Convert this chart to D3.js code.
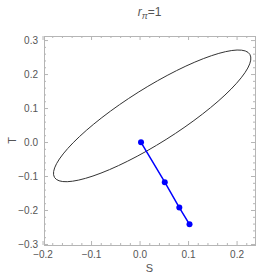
<!DOCTYPE html>
<html>
<head>
<meta charset="utf-8">
<script src="https://cdn.jsdelivr.net/npm/d3@7"></script>
<style>
  body { margin: 0; background: #fff; }
  text { font-family: "Liberation Sans", Arial, sans-serif; fill: #555; }
</style>
</head>
<body>
<div id="container"></div>
<script>
/* CONSTANTS AND GLOBALS */
const width = 274,
  height = 280,
  margin = { top: 36, bottom: 35, left: 44, right: 19 };

// blue path: S and T values at each point
const pathS = [0.003, 0.052, 0.082, 0.103];
const pathT = [-0.001, -0.118, -0.193, -0.242];

// ellipse: centre (S, T), semi-axes and tilt in degrees (data space)
const ellipseCenter = [0.026, 0.077];
const ellipseAxes = [0.272, 0.0705];
const ellipseAngle = 43.4;

const xTicks = [-0.2, -0.1, 0.0, 0.1, 0.2];
const yTicks = [-0.3, -0.2, -0.1, 0.0, 0.1, 0.2, 0.3];

const xScale = d3.scaleLinear()
  .domain([-0.197, 0.238])
  .range([margin.left, width - margin.right]);

const yScale = d3.scaleLinear()
  .domain([-0.303, 0.312])
  .range([height - margin.bottom, margin.top]);

const svg = d3.select("#container")
  .append("svg")
  .attr("width", width)
  .attr("height", height);

// minor ticks every 0.02
const xMinor = d3.range(-0.18, 0.24, 0.02).filter(v => Math.abs(Math.round(v * 10) - v * 10) > 1e-6);
const yMinor = d3.range(-0.28, 0.31, 0.02).filter(v => Math.abs(Math.round(v * 10) - v * 10) > 1e-6);

const fmt = d => d3.format(".1f")(d).replace("-", "\u2212");

// bottom
svg.append("g")
  .attr("transform", `translate(0, ${height - margin.bottom})`)
  .call(d3.axisBottom(xScale).tickValues(xTicks).tickSize(-4).tickPadding(6).tickFormat(fmt))
  .call(g => g.selectAll("text").attr("font-size", 10));
svg.append("g")
  .attr("transform", `translate(0, ${height - margin.bottom})`)
  .call(d3.axisBottom(xScale).tickValues(xMinor).tickSize(-2).tickFormat(""));
// top
svg.append("g")
  .attr("transform", `translate(0, ${margin.top})`)
  .call(d3.axisTop(xScale).tickValues(xTicks).tickSize(-4).tickFormat(""));
svg.append("g")
  .attr("transform", `translate(0, ${margin.top})`)
  .call(d3.axisTop(xScale).tickValues(xMinor).tickSize(-2).tickFormat(""));
// left
svg.append("g")
  .attr("transform", `translate(${margin.left}, 0)`)
  .call(d3.axisLeft(yScale).tickValues(yTicks).tickSize(-4).tickPadding(6).tickFormat(fmt))
  .call(g => g.selectAll("text").attr("font-size", 10));
svg.append("g")
  .attr("transform", `translate(${margin.left}, 0)`)
  .call(d3.axisLeft(yScale).tickValues(yMinor).tickSize(-2).tickFormat(""));
// right
svg.append("g")
  .attr("transform", `translate(${width - margin.right}, 0)`)
  .call(d3.axisRight(yScale).tickValues(yTicks).tickSize(-4).tickFormat(""));
svg.append("g")
  .attr("transform", `translate(${width - margin.right}, 0)`)
  .call(d3.axisRight(yScale).tickValues(yMinor).tickSize(-2).tickFormat(""));

svg.selectAll(".domain").attr("stroke", "#b5b5b5");
svg.selectAll(".tick line").attr("stroke", "#b5b5b5");
svg.selectAll(".tick text").attr("fill", "#555");

// ellipse, drawn in data units and mapped through the scales
const kx = xScale(1) - xScale(0),
  ky = yScale(0) - yScale(1);
svg.append("ellipse")
  .attr("transform", `translate(${xScale(ellipseCenter[0])}, ${yScale(ellipseCenter[1])}) scale(${kx}, ${-ky}) rotate(${ellipseAngle})`)
  .attr("rx", ellipseAxes[0])
  .attr("ry", ellipseAxes[1])
  .attr("fill", "none")
  .attr("stroke", "#333")
  .attr("stroke-width", 1)
  .attr("vector-effect", "non-scaling-stroke");

// blue path
const pathPts = pathS.map((s, i) => [s, pathT[i]]);
svg.append("path")
  .datum(pathPts)
  .attr("fill", "none")
  .attr("stroke", "#0000ff")
  .attr("stroke-width", 1.5)
  .attr("d", d3.line().x(d => xScale(d[0])).y(d => yScale(d[1])));

svg.selectAll("circle.pt")
  .data(pathPts)
  .join("circle")
  .attr("class", "pt")
  .attr("cx", d => xScale(d[0]))
  .attr("cy", d => yScale(d[1]))
  .attr("r", 3)
  .attr("fill", "#0000ff");

// labels
svg.append("text")
  .attr("x", (margin.left + width - margin.right) / 2)
  .attr("y", height - 8)
  .attr("text-anchor", "middle")
  .attr("font-size", 11)
  .text("S");

svg.append("text")
  .attr("transform", `translate(16, ${(margin.top + height - margin.bottom) / 2}) rotate(-90)`)
  .attr("text-anchor", "middle")
  .attr("font-size", 11)
  .text("T");

const title = svg.append("text")
  .attr("x", (margin.left + width - margin.right) / 2)
  .attr("y", 16)
  .attr("text-anchor", "middle")
  .attr("font-size", 12);
title.append("tspan").attr("font-style", "italic").text("r");
title.append("tspan").attr("font-style", "italic").attr("font-size", 9).attr("dy", 3).text("π");
title.append("tspan").attr("dy", -3).text("=1");
</script>
</body>
</html>
